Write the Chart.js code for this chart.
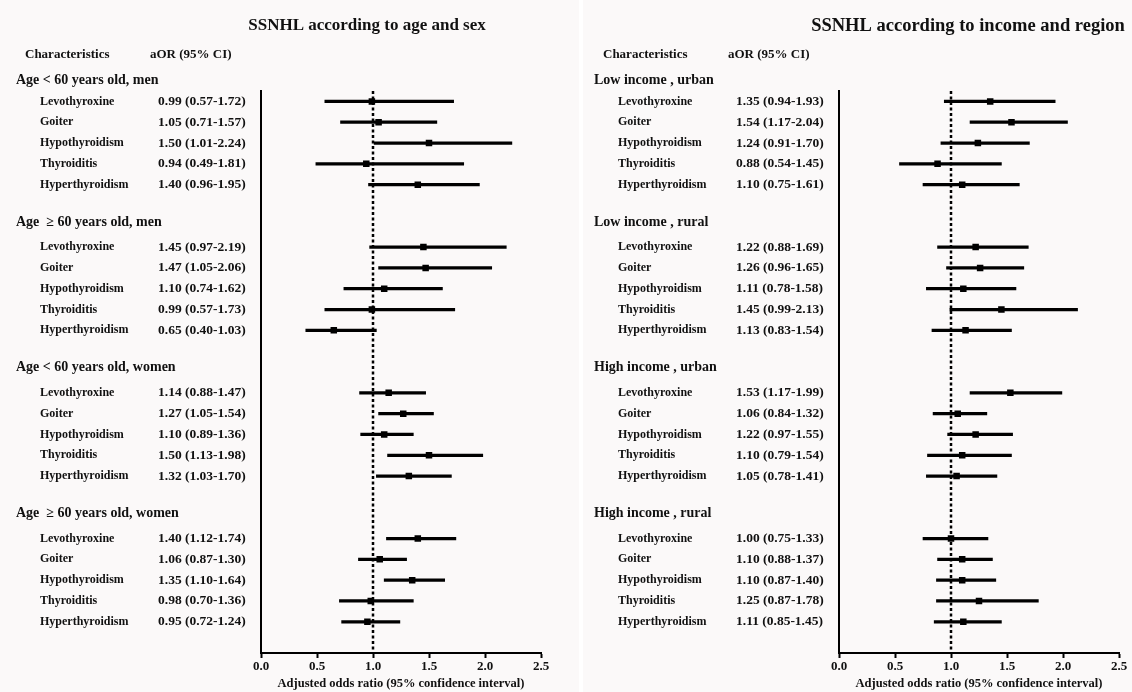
<!DOCTYPE html>
<html>
<head>
<meta charset="utf-8">
<script src="https://cdn.jsdelivr.net/npm/chart.js@4"></script>
<style>
  html, body { margin: 0; padding: 0; background: #ffffff; }
  .panel { position: absolute; top: 0; height: 692px; background: #fbf9f9; }
  #leftPanel { left: 0; width: 579px; }
  #rightPanel { left: 583px; width: 549px; }
</style>
</head>
<body>
<div class="panel" id="leftPanel"><canvas id="ageSexChart"></canvas></div>
<div class="panel" id="rightPanel"><canvas id="incomeRegionChart"></canvas></div>

<script>
// rows inside every subgroup
const conditions = ["Levothyroxine", "Goiter", "Hypothyroidism", "Thyroiditis", "Hyperthyroidism"];
const xTicks = [0, 0.5, 1, 1.5, 2, 2.5];

// left panel: age and sex
const ageSexGroups = ["Age < 60 years old, men", "Age  \u2265 60 years old, men",
                      "Age < 60 years old, women", "Age  \u2265 60 years old, women"];
const ageSexOR   = [[0.99, 1.05, 1.50, 0.94, 1.40], [1.45, 1.47, 1.10, 0.99, 0.65],
                    [1.14, 1.27, 1.10, 1.50, 1.32], [1.40, 1.06, 1.35, 0.98, 0.95]];
const ageSexLow  = [[0.57, 0.71, 1.01, 0.49, 0.96], [0.97, 1.05, 0.74, 0.57, 0.40],
                    [0.88, 1.05, 0.89, 1.13, 1.03], [1.12, 0.87, 1.10, 0.70, 0.72]];
const ageSexHigh = [[1.72, 1.57, 2.24, 1.81, 1.95], [2.19, 2.06, 1.62, 1.73, 1.03],
                    [1.47, 1.54, 1.36, 1.98, 1.70], [1.74, 1.30, 1.64, 1.36, 1.24]];

// right panel: income and region
const incomeGroups = ["Low income , urban", "Low income , rural", "High income , urban", "High income , rural"];
const incomeOR   = [[1.35, 1.54, 1.24, 0.88, 1.10], [1.22, 1.26, 1.11, 1.45, 1.13],
                    [1.53, 1.06, 1.22, 1.10, 1.05], [1.00, 1.10, 1.10, 1.25, 1.11]];
const incomeLow  = [[0.94, 1.17, 0.91, 0.54, 0.75], [0.88, 0.96, 0.78, 0.99, 0.83],
                    [1.17, 0.84, 0.97, 0.79, 0.78], [0.75, 0.88, 0.87, 0.87, 0.85]];
const incomeHigh = [[1.93, 2.04, 1.70, 1.45, 1.61], [1.69, 1.65, 1.58, 2.13, 1.54],
                    [1.99, 1.32, 1.55, 1.54, 1.41], [1.33, 1.37, 1.40, 1.78, 1.45]];

const serif = "'Liberation Serif', 'DejaVu Serif', serif";
const ink = "#111";

// text columns, group headers and the dotted line at OR = 1
const forestPlugin = {
  id: "forest",
  beforeDatasetsDraw(chart, args, opts) {
    const { ctx, chartArea, scales } = chart;
    const x1 = scales.x.getPixelForValue(1);
    ctx.save();
    ctx.strokeStyle = "#000";
    ctx.lineWidth = 2.5;
    ctx.setLineDash([3, 2.5]);
    ctx.beginPath();
    ctx.moveTo(x1, chartArea.top);
    ctx.lineTo(x1, chartArea.bottom);
    ctx.stroke();
    ctx.restore();
  },
  afterDraw(chart, args, opts) {
    const { ctx, chartArea, scales } = chart;
    const ax = chartArea.left;
    const y = scales.y;
    ctx.save();
    ctx.fillStyle = ink;
    ctx.textBaseline = "middle";
    ctx.textAlign = "center";
    ctx.font = "bold " + opts.titleSize + "px " + serif;
    ctx.fillText(opts.title, opts.titleX, 26);

    ctx.textAlign = "left";
    ctx.font = "bold 13px " + serif;
    ctx.fillText("Characteristics", ax - 236, 55);
    ctx.fillText("aOR (95% CI)", ax - 111, 55);

    let idx = 0;
    opts.groups.forEach((g, gi) => {
      ctx.font = "bold 14px " + serif;
      ctx.fillText(g, ax - 245, y.getPixelForValue(idx - (gi === 0 ? 1.0 : 1.2)));
      conditions.forEach((c, ci) => {
        const py = y.getPixelForValue(idx);
        ctx.font = "bold 12px " + serif;
        ctx.fillText(c, ax - 221, py);
        ctx.font = "bold 13.5px " + serif;
        const txt = opts.or[gi][ci].toFixed(2) + " (" + opts.low[gi][ci].toFixed(2) + "-" + opts.high[gi][ci].toFixed(2) + ")";
        ctx.fillText(txt, ax - 103, py);
        idx++;
      });
      idx += 2;
    });
    ctx.restore();
  }
};

function makeForest(canvasId, title, titleX, titleSize, axisLeft, rightPad, groups, or, low, high) {
  const rowLabels = [];
  const ranges = [];
  const points = [];
  groups.forEach((g, gi) => {
    conditions.forEach((c, ci) => {
      rowLabels.push(c);
      ranges.push([low[gi][ci], high[gi][ci]]);
      points.push(or[gi][ci]);
    });
    const blanks = gi < groups.length - 1 ? 2 : 1;
    for (let k = 0; k < blanks; k++) {
      rowLabels.push("");
      ranges.push(null);
      points.push(null);
    }
  });

  const chartContext = document.getElementById(canvasId).getContext("2d");
  return new Chart(chartContext, {
    type: "bar",
    data: {
      labels: rowLabels,
      datasets: [
        {
          type: "bar",
          data: ranges,
          backgroundColor: "#000",
          borderWidth: 0,
          barThickness: 2.6,
          order: 2,
        },
        {
          type: "line",
          data: points,
          showLine: false,
          pointStyle: "rect",
          pointRadius: 4.6,
          pointBackgroundColor: "#000",
          pointBorderWidth: 0,
          order: 1,
        },
      ],
    },
    options: {
      indexAxis: "y",
      responsive: true,
      maintainAspectRatio: false,
      animation: false,
      events: [],
      layout: { padding: { left: axisLeft, right: rightPad, top: 91, bottom: 0 } },
      plugins: {
        legend: { display: false },
        tooltip: { enabled: false },
        forest: { title, titleX, titleSize, groups, or, low, high },
      },
      scales: {
        x: {
          type: "linear",
          min: 0,
          max: 2.5,
          afterBuildTicks: scale => { scale.ticks = xTicks.map(v => ({ value: v })); },
          afterFit: scale => { scale.height = 39; },
          ticks: {
            callback: v => Number(v).toFixed(1),
            color: ink,
            padding: 1,
            font: { family: serif, size: 13, weight: "bold" },
          },
          grid: { display: true, drawOnChartArea: false, tickLength: 5, tickWidth: 2, tickColor: "#000" },
          border: { color: "#000", width: 2 },
          title: {
            display: true,
            text: "Adjusted odds ratio (95% confidence interval)",
            color: ink,
            font: { family: serif, size: 12.5, weight: "bold" },
            padding: { top: 0, bottom: 1 },
          },
        },
        y: {
          type: "category",
          offset: true,
          afterFit: scale => { scale.width = 0; },
          ticks: { display: false },
          grid: { display: false },
          border: { display: true, color: "#000", width: 2 },
        },
      },
    },
    plugins: [forestPlugin],
  });
}

makeForest("ageSexChart", "SSNHL according to age and sex", 367, 17, 261, 38,
           ageSexGroups, ageSexOR, ageSexLow, ageSexHigh);
makeForest("incomeRegionChart", "SSNHL according to income and region", 385, 18.5, 256, 13,
           incomeGroups, incomeOR, incomeLow, incomeHigh);
</script>
</body>
</html>
